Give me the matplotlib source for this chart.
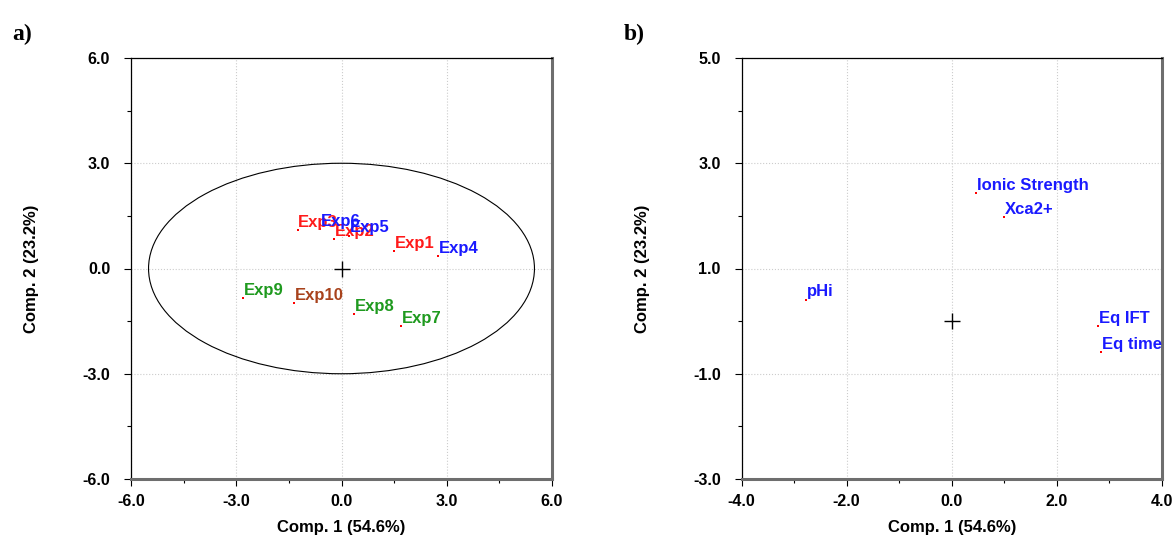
"""PCA score plot (a) and loading plot (b)."""
import matplotlib
matplotlib.use('Agg')
import matplotlib.pyplot as plt
import numpy as np
from matplotlib.patches import Ellipse
from matplotlib.ticker import MultipleLocator

plt.rcParams['font.family'] = ['Liberation Sans', 'DejaVu Sans']
plt.rcParams['font.weight'] = 'bold'
plt.rcParams['axes.unicode_minus'] = False

# scores (panel a)
exp_names = ['Exp1', 'Exp2', 'Exp3', 'Exp4', 'Exp5', 'Exp6',
             'Exp7', 'Exp8', 'Exp9', 'Exp10']
exp_pc1 = [1.49, -0.20, -1.25, 2.75, 0.21, -0.62, 1.70, 0.35, -2.81, -1.36]
exp_pc2 = [0.49, 0.85, 1.09, 0.36, 0.94, 1.13, -1.63, -1.31, -0.84, -0.98]
exp_colors = ['#ff1a1a', '#ff1a1a', '#ff1a1a', '#1a1aff', '#1a1aff', '#1a1aff',
              '#1f9a1f', '#1f9a1f', '#1f9a1f', '#a8421c']
ellipse_radii = (5.5, 3.0)

# loadings (panel b)
var_names = ['Ionic Strength', 'Xca2+', 'pHi', 'Eq IFT', 'Eq time']
var_pc1 = [0.46, 0.99, -2.77, 2.79, 2.84]
var_pc2 = [2.44, 1.97, 0.41, -0.09, -0.58]

xlabel = 'Comp. 1 (54.6%)'
ylabel = 'Comp. 2 (23.2%)'


def style_axes(ax, lim_x, lim_y, major_x, major_y):
    ax.set_xlim(*lim_x)
    ax.set_ylim(*lim_y)
    ax.xaxis.set_major_locator(MultipleLocator(major_x))
    ax.xaxis.set_minor_locator(MultipleLocator(major_x / 2))
    ax.yaxis.set_major_locator(MultipleLocator(major_y))
    ax.yaxis.set_minor_locator(MultipleLocator(major_y / 2))
    ax.xaxis.set_major_formatter('{x:.1f}')
    ax.yaxis.set_major_formatter('{x:.1f}')
    ax.tick_params(which='major', direction='out', length=5, width=0.8,
                   labelsize=11.5)
    ax.tick_params(axis='y', which='major', pad=10)
    ax.tick_params(axis='x', which='major', pad=6)
    ax.tick_params(which='minor', direction='out', length=3, width=0.8)
    for lab in ax.get_xticklabels() + ax.get_yticklabels():
        lab.set_fontweight('bold')
    ax.grid(True, which='major', color='#cccccc', ls=':', lw=0.8)
    ax.set_axisbelow(True)
    ax.spines['left'].set_color('black')
    ax.spines['top'].set_color('black')
    ax.spines['left'].set_linewidth(0.9)
    ax.spines['top'].set_linewidth(0.9)
    ax.spines['right'].set_color('#6e6e6e')
    ax.spines['bottom'].set_color('#6e6e6e')
    ax.spines['right'].set_linewidth(2.2)
    ax.spines['bottom'].set_linewidth(2.2)
    ax.set_xlabel(xlabel, fontsize=12, fontweight='bold', labelpad=8)
    ax.set_ylabel(ylabel, fontsize=12, fontweight='bold', labelpad=31)
    ax.plot(0, 0, marker='+', color='black', ms=11, mew=1.0)


fig = plt.figure(figsize=(11.76, 5.4), dpi=100)
ax1 = fig.add_axes([131 / 1176, 1 - 479 / 540, 421 / 1176, 421 / 540])
ax2 = fig.add_axes([741.5 / 1176, 1 - 479 / 540, 420.5 / 1176, 421 / 540])

style_axes(ax1, (-6, 6), (-6, 6), 3.0, 3.0)
ax1.add_patch(Ellipse((0, 0), 2 * ellipse_radii[0], 2 * ellipse_radii[1],
                      fill=False, color='black', lw=0.8))
for name, x, y, c in zip(exp_names, exp_pc1, exp_pc2, exp_colors):
    ax1.plot(x, y, 's', color='red', ms=1.6, mew=0)
    ax1.annotate(name, (x, y), xytext=(0.5, 2.2), textcoords='offset points',
                 ha='left', va='baseline', color=c, fontsize=12,
                 fontweight='bold')

style_axes(ax2, (-4, 4), (-3, 5), 2.0, 2.0)
ax2.set_yticks([-3, -1, 1, 3, 5])
ax2.yaxis.set_minor_locator(MultipleLocator(1.0))
for lab in ax2.get_yticklabels():
    lab.set_fontweight('bold')
for name, x, y in zip(var_names, var_pc1, var_pc2):
    ax2.plot(x, y, 's', color='red', ms=1.6, mew=0)
    ax2.annotate(name, (x, y), xytext=(0.5, 2.2), textcoords='offset points',
                 ha='left', va='baseline', color='#1a1aff', fontsize=12,
                 fontweight='bold', clip_on=False)

fig.text(12 / 1176, 1 - 40 / 540, 'a)', fontsize=17, fontweight='bold',
         family='Liberation Serif')
fig.text(624 / 1176, 1 - 40 / 540, 'b)', fontsize=17, fontweight='bold',
         family='Liberation Serif')

fig.savefig('out.png', dpi=100)
